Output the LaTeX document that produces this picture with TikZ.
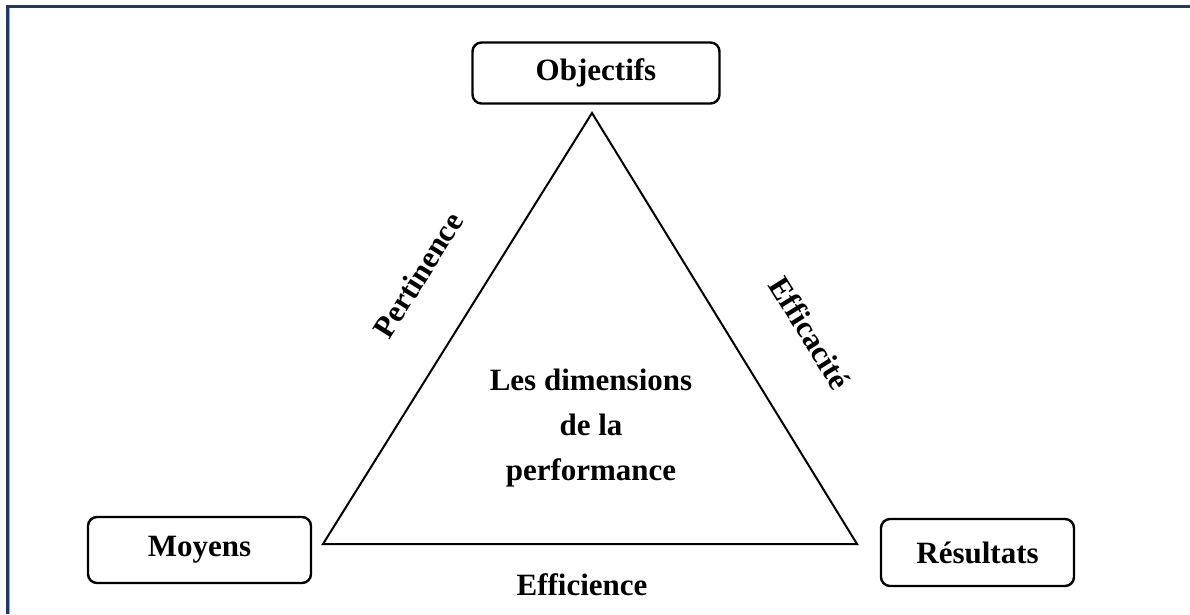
\documentclass[tikz,border=0pt]{standalone}
\usepackage{fontspec}
\setmainfont{Liberation Serif}
\definecolor{framenavy}{HTML}{1F3864}
\definecolor{framelight}{HTML}{8EA9DB}
\begin{document}
\begin{tikzpicture}[x=1pt,y=-1pt,font=\fontsize{31}{45}\selectfont\bfseries,
  bx/.style={draw,rounded corners=9pt,line width=2.4pt,inner sep=0pt,align=center},
  lb/.style={inner sep=0pt,align=center}]
  \useasboundingbox (0,0) rectangle (1190,614);
  \draw[framelight,line width=1.2pt] (9.6,614) -- (9.6,7.5);
  \draw[framenavy,line width=3pt] (7.5,614) -- (7.5,6) -- (1190,6);
  \node[bx,minimum width=247pt,minimum height=61pt] (obj) at (596,73){Objectifs};
  \node[bx,minimum width=223pt,minimum height=66pt] (moy) at (199.5,550){Moyens};
  \node[bx,minimum width=193pt,minimum height=67pt] (res) at (977.5,552.5){Résultats};
  \coordinate (top) at (592,113);
  \coordinate (bl) at (323,544);
  \coordinate (br) at (857,544);
  \draw[line width=2pt,line join=miter] (top) -- (bl) -- (br) -- cycle;
  \node[lb] (dim) at (591,428){Les dimensions\\de la\\performance};
  \node[lb,rotate=58] (pert) at (418,275){Pertinence};
  \node[lb,rotate=-58] (effic) at (810,333){Efficacité};
  \node[lb] (effi) at (582,585){Efficience};
\end{tikzpicture}
\end{document}
